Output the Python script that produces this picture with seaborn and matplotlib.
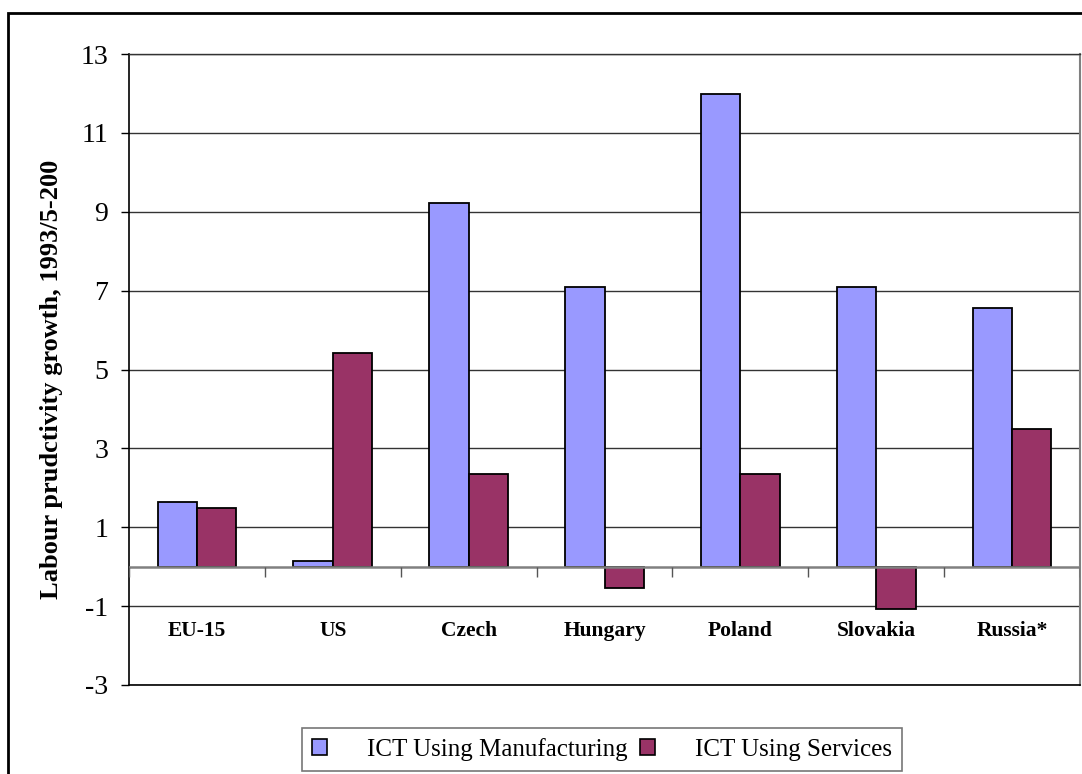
import numpy as np
import pandas as pd
import matplotlib.pyplot as plt
import matplotlib.patches as mpatches
import seaborn as sns

# data
countries = ['EU-15', 'US', 'Czech', 'Hungary', 'Poland', 'Slovakia', 'Russia*']
manufacturing = [1.63, 0.15, 9.21, 7.1, 11.98, 7.1, 6.57]
services = [1.5, 5.42, 2.34, -0.55, 2.34, -1.08, 3.5]
series_names = ['ICT Using Manufacturing', 'ICT Using Services']
colors = ['#9999FF', '#993366']
y_ticks = [-3, -1, 1, 3, 5, 7, 9, 11, 13]

df = pd.DataFrame({
    'Country': countries * 2,
    'Series': [series_names[0]] * len(countries) + [series_names[1]] * len(countries),
    'Value': manufacturing + services,
})

sns.set_theme(style='white')
plt.rcParams['font.family'] = ['Liberation Serif', 'DejaVu Serif']
plt.rcParams['text.color'] = 'black'
plt.rcParams['axes.labelcolor'] = 'black'
plt.rcParams['ytick.color'] = 'black'
plt.rcParams['xtick.color'] = 'black'

fig = plt.figure(figsize=(10.82, 7.74), dpi=100)
ax = fig.add_axes([129 / 1082, 1 - 685 / 774, 951 / 1082, 631 / 774])

sns.barplot(data=df, x='Country', y='Value', hue='Series', order=countries,
            hue_order=series_names, palette=colors, width=0.58, saturation=1,
            edgecolor='black', linewidth=1.3, legend=False, ax=ax)

ax.set_xlim(-0.5, len(countries) - 0.5)
ax.set_ylim(-3, 13)
ax.set_yticks(y_ticks)
ax.set_yticklabels([str(t) for t in y_ticks], fontsize=20)
ax.tick_params(axis='y', direction='out', length=6, width=1, color='black',
               labelcolor='black', pad=9, left=True)
ax.set_xticks([])
ax.set_xlabel('')
ax.grid(False)
for t in y_ticks:
    ax.axhline(t, color='#333333', lw=1.0, zorder=0)

# zero line with small tick marks between categories
ax.axhline(0, color='#808080', lw=1.8, zorder=3)
ax.vlines(np.arange(-0.5, len(countries), 1), 0, -0.25, color='#555555',
          lw=1.0, zorder=3)

# category labels sit below the zero line, as in the original
for i, c in enumerate(countries):
    ax.text(i, -1.63, c, ha='center', va='center', fontsize=15.5,
            fontweight='bold', color='black')

for side in ['left', 'bottom']:
    ax.spines[side].set_color('black')
    ax.spines[side].set_linewidth(1.2)
ax.spines['top'].set_color('#333333')
ax.spines['top'].set_linewidth(1.0)
ax.spines['right'].set_color('#808080')
ax.spines['right'].set_linewidth(1.5)

ax.set_ylabel('Labour prudctivity growth, 1993/5-200', fontsize=19,
              fontweight='bold', color='black')
ax.yaxis.set_label_coords(-0.0694, 0.484)

# legend below the plot, running off the bottom edge
handles = [mpatches.Patch(facecolor=colors[k], edgecolor='black', lw=1.2)
           for k in range(2)]
leg = fig.legend(handles, series_names, loc='upper left',
                 bbox_to_anchor=(302 / 1082, 1 - 728 / 774), ncol=2,
                 fontsize=18, frameon=True, fancybox=False,
                 handlelength=0.6, handleheight=0.6, handletextpad=1.6,
                 columnspacing=0.5, borderpad=0.4, borderaxespad=0,
                 labelcolor='black')
leg.get_frame().set_edgecolor('#555555')
leg.get_frame().set_linewidth(1.2)

# outer chart frame, cut off at right and bottom
fig.patches.append(mpatches.Rectangle((8 / 1082, -0.5), 2, 1.5 - 13 / 774,
                                      transform=fig.transFigure, fill=False,
                                      edgecolor='black', lw=2.0))

fig.savefig('out.png', dpi=100)
